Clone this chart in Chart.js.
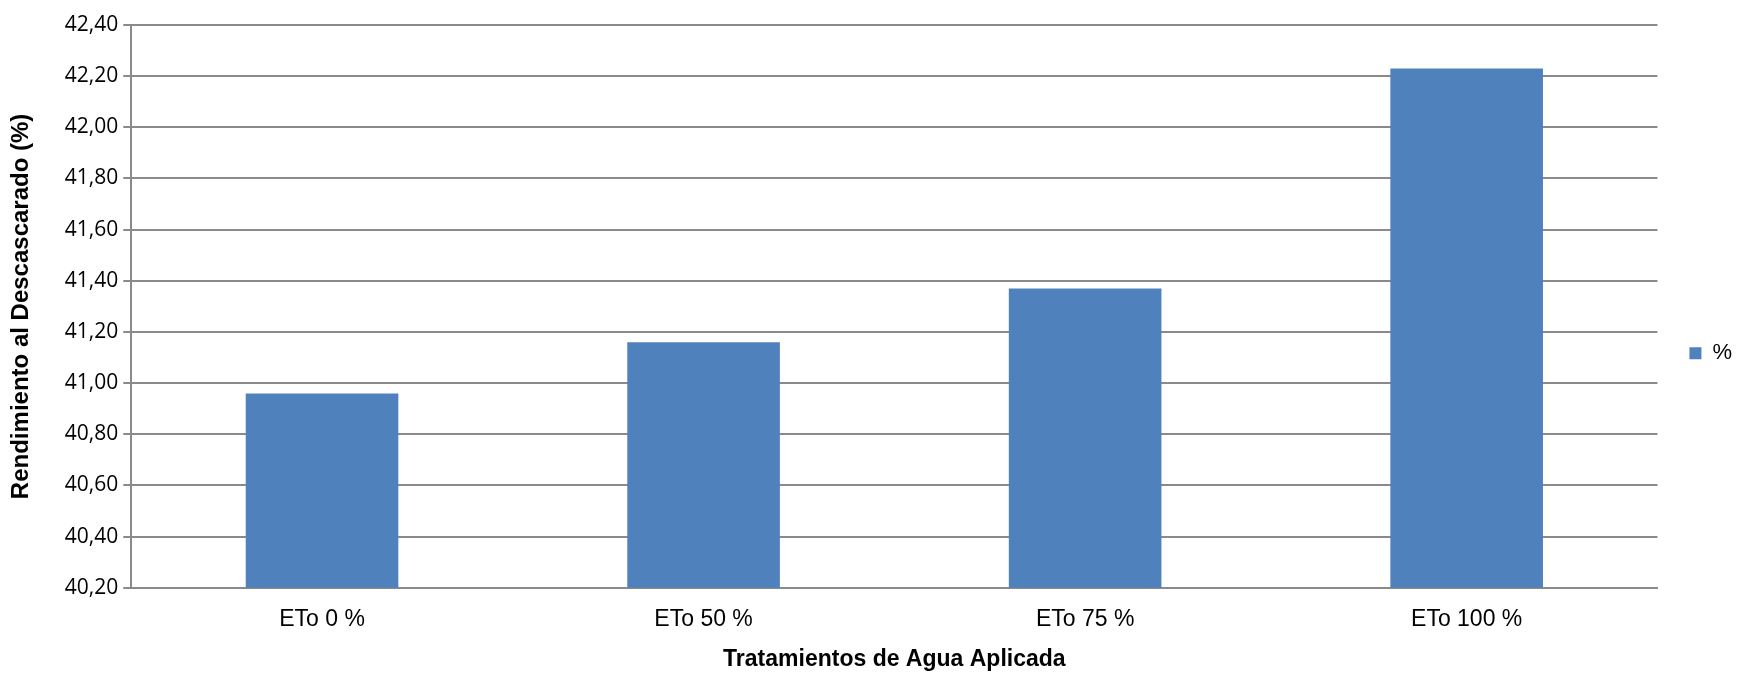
<!DOCTYPE html>
<html>
<head>
<meta charset="utf-8">
<script src="https://cdn.jsdelivr.net/npm/chart.js@4.4.1/dist/chart.umd.min.js"></script>
<style>
  html, body { margin: 0; padding: 0; background: #ffffff; }
  #wrap { width: 1742px; height: 676px; position: relative; }
</style>
</head>
<body>
<div id="wrap"><canvas id="c"></canvas></div>
<script>
const categories = ["ETo 0 %", "ETo 50 %", "ETo 75 %", "ETo 100 %"];
const seriesName = "%";
const seriesValues = [40.96, 41.16, 41.37, 42.23];
const yTickValues = [40.20, 40.40, 40.60, 40.80, 41.00, 41.20, 41.40, 41.60, 41.80, 42.00, 42.20, 42.40];
const xTitle = "Tratamientos de Agua Aplicada";
const yTitle = "Rendimiento al Descascarado (%)";

const narrow = "'Liberation Sans Narrow', 'Arial Narrow', 'Liberation Sans', sans-serif";
const tickFont = "'Open Sans', 'DejaVu Sans', sans-serif";
const gridColor = "#8a8a8a";

new Chart(document.getElementById('c'), {
  type: 'bar',
  data: {
    labels: categories,
    datasets: [{
      label: seriesName,
      data: seriesValues,
      backgroundColor: '#4F81BD',
      borderColor: '#4F81BD',
      borderWidth: 0,
      categoryPercentage: 1.0,
      barPercentage: 0.4
    }]
  },
  options: {
    responsive: true,
    maintainAspectRatio: false,
    animation: false,
    devicePixelRatio: 1,
    layout: { padding: { left: 7, right: 0, top: 25, bottom: 3 } },
    plugins: {
      tooltip: { enabled: false },
      legend: {
        position: 'right',
        align: 'center',
        title: { display: true, text: ' ', padding: 0, font: { size: 7 } },
        labels: {
          boxWidth: 12,
          boxHeight: 12,
          padding: 32,
          color: '#000',
          font: { family: "'Liberation Sans', sans-serif", size: 22 }
        }
      }
    },
    scales: {
      x: {
        grid: { display: false, drawTicks: false },
        border: { display: true, color: gridColor, width: 2 },
        ticks: {
          color: '#000',
          padding: 18,
          font: { family: narrow, size: 23 }
        },
        title: {
          display: true,
          text: xTitle,
          color: '#000',
          padding: { top: -6, bottom: 0 },
          font: { family: narrow, size: 23, weight: 'bold' }
        }
      },
      y: {
        min: yTickValues[0],
        max: yTickValues[yTickValues.length - 1],
        afterBuildTicks: (axis) => { axis.ticks = yTickValues.map(v => ({ value: v })); },
        grid: { color: gridColor, lineWidth: 2, drawTicks: true, tickLength: 8 },
        border: { display: true, color: gridColor, width: 2 },
        ticks: {
          color: '#000',
          padding: 5,
          font: { family: tickFont, size: 21 },
          callback: (v) => Number(v).toFixed(2).replace('.', ',')
        },
        title: {
          display: true,
          text: yTitle,
          color: '#000',
          padding: { top: 0, bottom: 24 },
          font: { family: narrow, size: 24, weight: 'bold' }
        }
      }
    }
  }
});
</script>
</body>
</html>
